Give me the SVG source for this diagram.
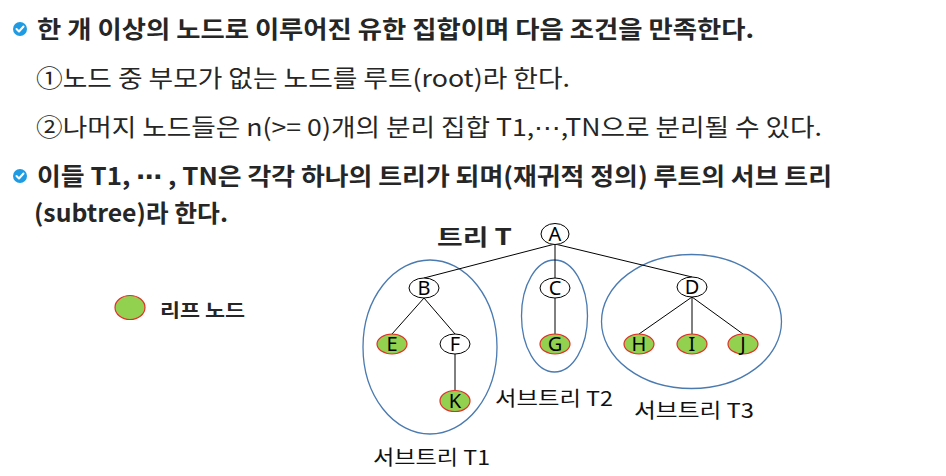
<svg xmlns="http://www.w3.org/2000/svg" width="946" height="476" viewBox="0 0 946 476">
<style>
.t{font-family:"Noto Sans CJK KR","Noto Sans",sans-serif;fill:#262626;font-size:24px}
.b{font-weight:bold}
.el{font-family:"DejaVu Sans",sans-serif}
.nd{fill:#fff;stroke:#000;stroke-width:1}
.lf{fill:#92d050;stroke:#e0302a;stroke-width:1.2}
.nl{font-family:"Noto Sans","Noto Sans CJK KR",sans-serif;font-size:20px;fill:#000;text-anchor:middle}
.sub{fill:none;stroke:#4a7ab0;stroke-width:1.3}
.lab{font-family:"Noto Sans CJK KR","Noto Sans",sans-serif;font-size:20px;fill:#111}
.ed{stroke:#000;stroke-width:1;fill:none}
.bul{fill:#1e9be3}
.chk{fill:none;stroke:#fff;stroke-width:2;stroke-linecap:round;stroke-linejoin:round}
</style>
<rect width="946" height="476" fill="#fff"/>
<g id="text">
<circle class="bul" cx="20" cy="29" r="7"/><polyline class="chk" points="16.5,29 19,31.5 23.5,26.5"/>
<text class="t b" x="37" y="38" textLength="717" lengthAdjust="spacingAndGlyphs">한 개 이상의 노드로 이루어진 유한 집합이며 다음 조건을 만족한다.</text>
<text class="t" x="36" y="87" textLength="534" lengthAdjust="spacingAndGlyphs">①노드 중 부모가 없는 노드를 루트(root)라 한다.</text>
<text class="t" x="36" y="136" textLength="786" lengthAdjust="spacingAndGlyphs">②나머지 노드들은 n(&gt;= 0)개의 분리 집합 T1,<tspan class="el">⋯</tspan>,TN으로 분리될 수 있다.</text>
<circle class="bul" cx="20" cy="176" r="7"/><polyline class="chk" points="16.5,176 19,178.5 23.5,173.5"/>
<text class="t b" x="37" y="185" textLength="795" lengthAdjust="spacingAndGlyphs">이들 T1, <tspan class="el">⋯</tspan> , TN은 각각 하나의 트리가 되며(재귀적 정의) 루트의 서브 트리</text>
<text class="t b" x="34" y="222" textLength="194" lengthAdjust="spacingAndGlyphs">(subtree)라 한다.</text>
</g>
<text class="t b" x="437" y="245" style="font-size:22px" textLength="75" lengthAdjust="spacingAndGlyphs">트리 T</text>
<g id="subtrees">
<ellipse id="T1" class="sub" cx="430" cy="347" rx="67" ry="87"/>
<ellipse id="T2" class="sub" cx="554.5" cy="316" rx="33" ry="56"/>
<ellipse id="T3" class="sub" cx="691.5" cy="321.5" rx="90" ry="67"/>
</g>
<g id="connectors">
<line class="ed" x1="555" y1="244" x2="424" y2="278"/>
<line class="ed" x1="555" y1="244" x2="555" y2="278"/>
<line class="ed" x1="555" y1="244" x2="692" y2="277"/>
<line class="ed" x1="424" y1="298" x2="392" y2="334"/>
<line class="ed" x1="424" y1="298" x2="455" y2="334"/>
<line class="ed" x1="455" y1="354" x2="455" y2="390"/>
<line class="ed" x1="555" y1="298" x2="555" y2="334"/>
<line class="ed" x1="692" y1="297" x2="639" y2="334"/>
<line class="ed" x1="692" y1="297" x2="692" y2="334"/>
<line class="ed" x1="692" y1="297" x2="743" y2="334"/>
</g>
<g id="nA"><ellipse class="nd" cx="555" cy="234" rx="14" ry="10.5"/><text class="nl" x="555" y="241">A</text></g>
<g id="nB"><ellipse class="nd" cx="424" cy="288" rx="15" ry="10"/><text class="nl" x="424" y="295">B</text></g>
<g id="nC"><ellipse class="nd" cx="555" cy="288" rx="15" ry="10"/><text class="nl" x="555" y="295">C</text></g>
<g id="nD"><ellipse class="nd" cx="692" cy="287" rx="15" ry="10"/><text class="nl" x="692" y="294">D</text></g>
<g id="nE"><ellipse class="lf" cx="392" cy="344" rx="15" ry="10"/><text class="nl" x="392" y="351">E</text></g>
<g id="nF"><ellipse class="nd" cx="455" cy="344" rx="15" ry="10"/><text class="nl" x="455" y="351">F</text></g>
<g id="nG"><ellipse class="lf" cx="555" cy="344" rx="15" ry="10"/><text class="nl" x="555" y="351">G</text></g>
<g id="nH"><ellipse class="lf" cx="639" cy="344" rx="15" ry="10"/><text class="nl" x="639" y="351">H</text></g>
<g id="nI"><ellipse class="lf" cx="692" cy="344" rx="15" ry="10"/><text class="nl" x="692" y="351">I</text></g>
<g id="nJ"><ellipse class="lf" cx="743" cy="344" rx="15" ry="10"/><text class="nl" x="743" y="351">J</text></g>
<g id="nK"><ellipse class="lf" cx="455" cy="401" rx="15" ry="10.5"/><text class="nl" x="455" y="408">K</text></g>
<g id="labels">
<text class="lab" x="373" y="465" textLength="117" lengthAdjust="spacingAndGlyphs">서브트리 T1</text>
<text class="lab" x="495" y="406" textLength="118" lengthAdjust="spacingAndGlyphs">서브트리 T2</text>
<text class="lab" x="634" y="418" textLength="120" lengthAdjust="spacingAndGlyphs">서브트리 T3</text>
</g>
<g id="legend">
<ellipse class="lf" cx="130" cy="307.5" rx="15" ry="12"/>
<text class="t b" x="160" y="317" style="font-size:18px" textLength="85" lengthAdjust="spacingAndGlyphs">리프 노드</text>
</g>
</svg>
